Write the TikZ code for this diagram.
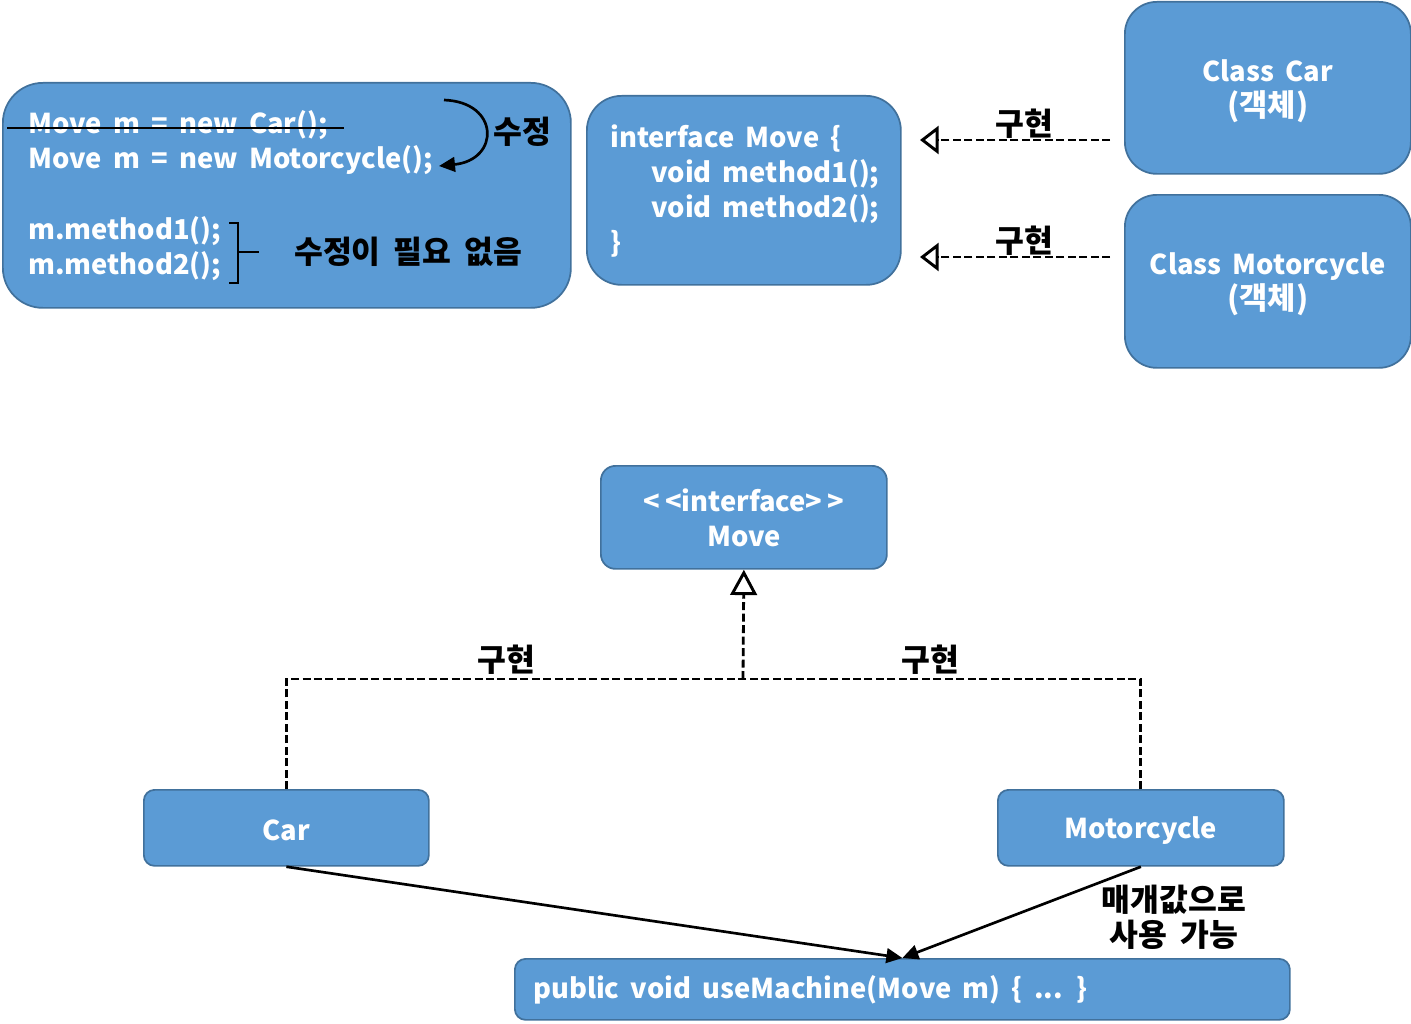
\documentclass[tikz,border=0pt]{standalone}
\usepackage{fontspec}
\setmainfont{Noto Sans CJK KR}[WordSpace=1.8]
\usetikzlibrary{arrows.meta,calc}
\definecolor{boxc}{HTML}{5B9BD5}
\definecolor{bordc}{HTML}{41719C}
\newcommand\kk[1]{{\fontsize{23pt}{26.25pt}\selectfont #1}}
\tikzset{
  box/.style={draw=bordc, fill=boxc, line width=1.3pt, rectangle, inner sep=0pt, anchor=north west},
  wt/.style={text=white, font=\fontsize{20.5pt}{26.25pt}\selectfont\bfseries, inner sep=0pt},
  bk/.style={text=black, font=\fontsize{23.5pt}{26.25pt}\selectfont\bfseries, inner sep=0pt},
  dashline/.style={line width=2.1pt, dash pattern=on 6pt off 2.6pt},
  openhead/.style={-{Triangle[open, length=14pt, width=21pt, line width=2.2pt]}},
  openheadb/.style={-{Triangle[open, length=19pt, width=20pt, line width=2.2pt]}},
  solidhead/.style={-{Triangle[length=12pt, width=11pt]}},
  solid/.style={line width=2pt},
}
\begin{document}
\begin{tikzpicture}[x=0.75pt, y=-0.75pt]
\useasboundingbox (0,0) rectangle (1411,1024);
% boxes
\node[box, rounded corners=30pt, minimum width=568*0.75pt, minimum height=225*0.75pt] (code) at (2,82) {};
\node[box, rounded corners=26pt, minimum width=314*0.75pt, minimum height=189*0.75pt] (ifc) at (586,95) {};
\node[box, rounded corners=24pt, minimum width=286*0.75pt, minimum height=172*0.75pt] (ccar) at (1124,1) {};
\node[box, rounded corners=24pt, minimum width=286*0.75pt, minimum height=173*0.75pt] (cmoto) at (1124,194) {};
\node[box, rounded corners=11pt, minimum width=286*0.75pt, minimum height=103*0.75pt] (imove) at (600,465) {};
\node[box, rounded corners=8pt, minimum width=285*0.75pt, minimum height=76*0.75pt] (car) at (143,789) {};
\node[box, rounded corners=8pt, minimum width=286*0.75pt, minimum height=76*0.75pt] (moto) at (997,789) {};
\node[box, rounded corners=8pt, minimum width=775*0.75pt, minimum height=61*0.75pt] (use) at (514,958) {};

% code box text
\node[wt, anchor=west] (l1) at (28,125) {Move m = new Car();};
\node[wt, anchor=west] (l2) at (28,160) {Move m = new Motorcycle();};
\node[wt, anchor=west] (l3) at (28,231) {m.method1();};
\node[wt, anchor=west] (l4) at (28,266) {m.method2();};
\coordinate (s1) at (7,128);
\coordinate (s2) at (344,128);
\draw[solid] (s1) -- (s2);
\coordinate (ca) at (444,100);
\coordinate (cb) at (439,166);
\draw[solid, solidhead] (ca) .. controls (500,102) and (500,160) .. (cb);
\node[bk, anchor=west] (sj) at (493,132) {수정};
\coordinate (b1) at (229,223);
\coordinate (bm) at (238,252);
\coordinate (bt) at (259,252);
\draw[solid] (b1) -- ++(9,0) -- ++(0,60) -- ++(-9,0);
\draw[solid] (bm) -- (bt);
\node[bk, anchor=west] (nf) at (294,252) {수정이 필요 없음};

% interface box text
\node[wt, anchor=west] (i1) at (610,139) {interface Move \{};
\node[wt, anchor=west] (i2) at (651,174) {void method1();};
\node[wt, anchor=west] (i3) at (651,209) {void method2();};
\node[wt, anchor=west] (i4) at (610,244) {\}};

% class boxes text
\node[wt, align=center, yshift=-2.5pt] (t1) at (ccar.center) {Class Car\\\kk{(객체)}};
\node[wt, align=center, yshift=-2.5pt] (t2) at (cmoto.center) {Class Motorcycle\\\kk{(객체)}};

% top dashed arrows
\coordinate (d1s) at (1110,140);
\coordinate (d1e) at (920,140);
\coordinate (d2s) at (1110,257);
\coordinate (d2e) at (920,257);
\draw[dashline, openhead] (d1s) -- (d1e);
\draw[dashline, openhead] (d2s) -- (d2e);
\node[bk] (g1) at (1024,124) {구현};
\node[bk] (g2) at (1024,241) {구현};

% bottom text
\node[wt, align=center] (tm) at (imove.center) {<\,<interface>\,>\\Move};
\node[wt, yshift=-1.5pt] (tc) at (car.center) {Car};
\node[wt, yshift=-2pt] (tmo) at (moto.center) {Motorcycle};
\node[wt, anchor=west] (tu) at (533,990) {public void useMachine(Move m) \{ ... \}};

% bottom connectors
\coordinate (jn) at (743,679);
\draw[dashline] (car.north) |- (jn);
\draw[dashline] (moto.north) |- (jn);
\draw[dashline, openheadb] (jn) -- (imove.south);
\node[bk] (g3) at (506,660) {구현};
\node[bk] (g4) at (930,660) {구현};

\draw[solid, solidhead] (car.south) -- (use.north);
\draw[solid, solidhead] (moto.south) -- (use.north);
\node[bk, align=center] (mg) at (1174,917) {매개값으로\\사용 가능};
\end{tikzpicture}
\end{document}
